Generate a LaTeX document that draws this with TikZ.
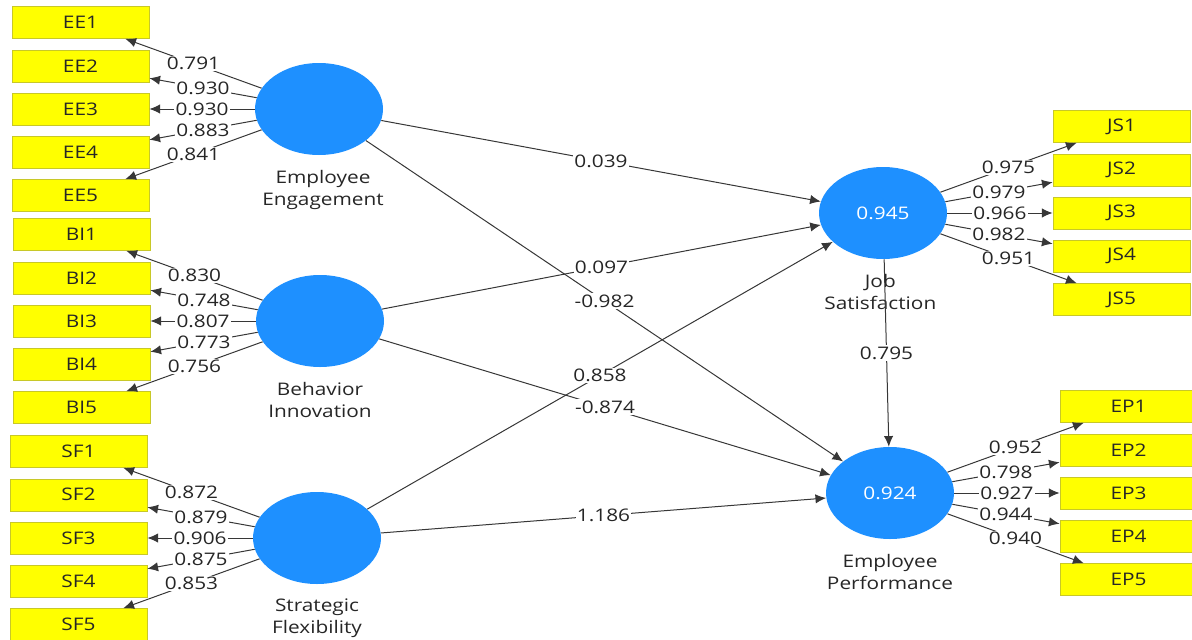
\documentclass[tikz,border=0pt]{standalone}
\usepackage{fontspec}
\setmainfont[FakeStretch=1.2]{Open Sans}
\usetikzlibrary{positioning,shapes.geometric}
\usetikzlibrary{arrows.meta}
\definecolor{constructBlue}{RGB}{30,144,255}
\definecolor{itemYellow}{RGB}{255,255,0}
\definecolor{itemBorder}{RGB}{200,200,40}
\definecolor{pathGray}{RGB}{55,55,55}
\tikzset{%
  % Specifications for style of nodes:
    >={Latex[width=7pt,length=8pt]},
    construct/.style = {ellipse, fill=constructBlue, minimum width=96pt, minimum height=69pt, inner sep=0, text=white},
    indicator/.style = {rectangle, draw=itemBorder, fill=itemYellow, minimum width=103pt, minimum height=24pt, inner sep=0, text=black!85},
    constructName/.style = {align=center, text=black!85, inner sep=0},
    loadLabel/.style = {fill=white, inner sep=1pt, text=black!85},
    pathLine/.style = {draw=pathGray, line width=0.75pt, ->},
}

\begin{document}
\begin{tikzpicture}[x=0.75pt, y=0.75pt, font=\fontsize{13}{16.5}\selectfont]
	\useasboundingbox (0,0) rectangle (1192,-639);

	% latent variables
	\node [construct] (EE) at (319,-109) {};
	\node [construct] (BI) at (320,-321) {};
	\node [construct] (SF) at (317,-538) {};
	\node [construct] (JS) at (883,-213) {0.945};
	\node [construct] (EP) at (890,-493) {0.924};

	\node [constructName, below=11pt of EE, xshift=3pt] (EE-name) {Employee\\Engagement};
	\node [constructName, below=11pt of BI] (BI-name) {Behavior\\Innovation};
	\node [constructName, below=11pt of SF] (SF-name) {Strategic\\Flexibility};
	\node [constructName, below=11pt of JS, xshift=-2pt] (JS-name) {Job\\Satisfaction};
	\node [constructName, below=11pt of EP] (EP-name) {Employee\\Performance};

	% Employee Engagement items
	\node [indicator, left=79pt of EE] (EE-3) {EE3};
	\node [indicator, above=8pt of EE-3] (EE-2) {EE2};
	\node [indicator, above=8pt of EE-2] (EE-1) {EE1};
	\node [indicator, below=8pt of EE-3] (EE-4) {EE4};
	\node [indicator, below=8pt of EE-4] (EE-5) {EE5};
	\draw [pathLine] (EE) -- (EE-1) node [loadLabel, midway] {0.791};
	\draw [pathLine] (EE) -- (EE-2) node [loadLabel, midway] {0.930};
	\draw [pathLine] (EE) -- (EE-3) node [loadLabel, midway] {0.930};
	\draw [pathLine] (EE) -- (EE-4) node [loadLabel, midway] {0.883};
	\draw [pathLine] (EE) -- (EE-5) node [loadLabel, midway] {0.841};

	% Behavior Innovation items
	\node [indicator, left=79pt of BI] (BI-3) {BI3};
	\node [indicator, above=8pt of BI-3] (BI-2) {BI2};
	\node [indicator, above=8pt of BI-2] (BI-1) {BI1};
	\node [indicator, below=8pt of BI-3] (BI-4) {BI4};
	\node [indicator, below=8pt of BI-4] (BI-5) {BI5};
	\draw [pathLine] (BI) -- (BI-1) node [loadLabel, midway] {0.830};
	\draw [pathLine] (BI) -- (BI-2) node [loadLabel, midway] {0.748};
	\draw [pathLine] (BI) -- (BI-3) node [loadLabel, midway] {0.807};
	\draw [pathLine] (BI) -- (BI-4) node [loadLabel, midway] {0.773};
	\draw [pathLine] (BI) -- (BI-5) node [loadLabel, midway] {0.756};

	% Strategic Flexibility items
	\node [indicator, left=79pt of SF] (SF-3) {SF3};
	\node [indicator, above=8pt of SF-3] (SF-2) {SF2};
	\node [indicator, above=8pt of SF-2] (SF-1) {SF1};
	\node [indicator, below=8pt of SF-3] (SF-4) {SF4};
	\node [indicator, below=8pt of SF-4] (SF-5) {SF5};
	\draw [pathLine] (SF) -- (SF-1) node [loadLabel, midway] {0.872};
	\draw [pathLine] (SF) -- (SF-2) node [loadLabel, midway] {0.879};
	\draw [pathLine] (SF) -- (SF-3) node [loadLabel, midway] {0.906};
	\draw [pathLine] (SF) -- (SF-4) node [loadLabel, midway] {0.875};
	\draw [pathLine] (SF) -- (SF-5) node [loadLabel, midway] {0.853};

	% Job Satisfaction items
	\node [indicator, right=79pt of JS] (JS-3) {JS3};
	\node [indicator, above=8pt of JS-3] (JS-2) {JS2};
	\node [indicator, above=8pt of JS-2] (JS-1) {JS1};
	\node [indicator, below=8pt of JS-3] (JS-4) {JS4};
	\node [indicator, below=8pt of JS-4] (JS-5) {JS5};
	\draw [pathLine] (JS) -- (JS-1) node [loadLabel, midway] {0.975};
	\draw [pathLine] (JS) -- (JS-2) node [loadLabel, midway] {0.979};
	\draw [pathLine] (JS) -- (JS-3) node [loadLabel, midway] {0.966};
	\draw [pathLine] (JS) -- (JS-4) node [loadLabel, midway] {0.982};
	\draw [pathLine] (JS) -- (JS-5) node [loadLabel, midway] {0.951};

	% Employee Performance items
	\node [indicator, right=79pt of EP] (EP-3) {EP3};
	\node [indicator, above=8pt of EP-3] (EP-2) {EP2};
	\node [indicator, above=8pt of EP-2] (EP-1) {EP1};
	\node [indicator, below=8pt of EP-3] (EP-4) {EP4};
	\node [indicator, below=8pt of EP-4] (EP-5) {EP5};
	\draw [pathLine] (EP) -- (EP-1) node [loadLabel, midway] {0.952};
	\draw [pathLine] (EP) -- (EP-2) node [loadLabel, midway] {0.798};
	\draw [pathLine] (EP) -- (EP-3) node [loadLabel, midway] {0.927};
	\draw [pathLine] (EP) -- (EP-4) node [loadLabel, midway] {0.944};
	\draw [pathLine] (EP) -- (EP-5) node [loadLabel, midway] {0.940};

	% structural paths
	\draw [pathLine] (EE) -- (JS) node [loadLabel, midway] {0.039};
	\draw [pathLine] (BI) -- (JS) node [loadLabel, midway] {0.097};
	\draw [pathLine] (SF) -- (JS) node [loadLabel, midway] {0.858};
	\draw [pathLine] (EE) -- (EP) node [loadLabel, midway] {-0.982};
	\draw [pathLine] (BI) -- (EP) node [loadLabel, midway] {-0.874};
	\draw [pathLine] (SF) -- (EP) node [loadLabel, midway] {1.186};
	\draw [pathLine] (JS) -- (EP) node [loadLabel, midway] {0.795};

\end{tikzpicture}
\end{document}
